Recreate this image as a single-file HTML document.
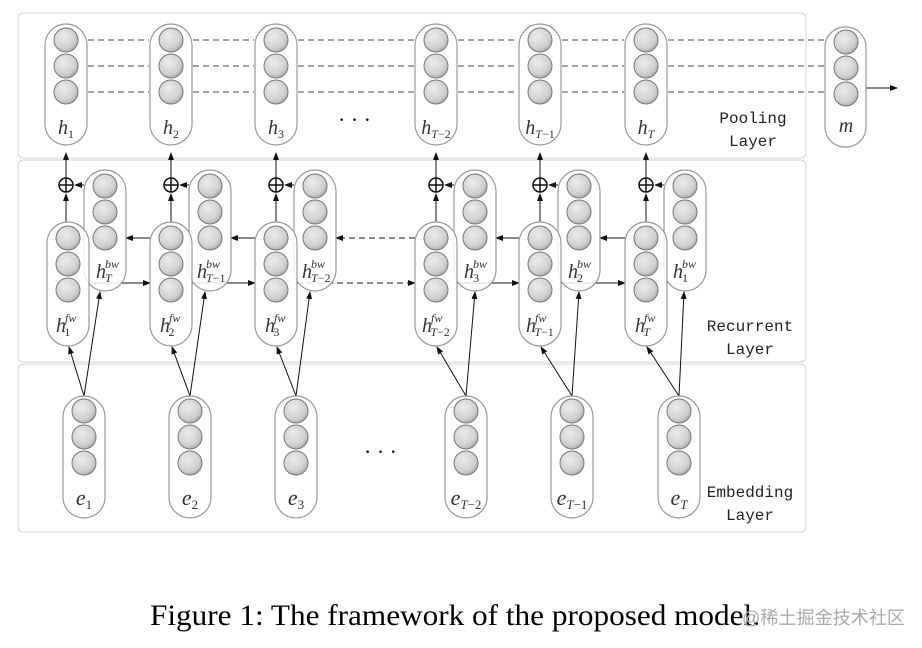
<!DOCTYPE html>
<html><head><meta charset="utf-8"><style>body{margin:0;background:#fff}svg{display:block}</style></head><body>
<svg width="922" height="648" viewBox="0 0 922 648" xmlns="http://www.w3.org/2000/svg">
<defs>
<radialGradient id="g" cx="0.4" cy="0.35" r="0.7"><stop offset="0" stop-color="#ececec"/><stop offset="0.7" stop-color="#d0d0d0"/><stop offset="1" stop-color="#a8a8a8"/></radialGradient>
<g id="c3"><circle cx="0" cy="0" r="12" fill="url(#g)" stroke="#777" stroke-width="1"/><circle cx="0" cy="26" r="12" fill="url(#g)" stroke="#777" stroke-width="1"/><circle cx="0" cy="52" r="12" fill="url(#g)" stroke="#777" stroke-width="1"/></g>
<marker id="a" markerWidth="8" markerHeight="6" refX="7" refY="3" orient="auto" markerUnits="userSpaceOnUse"><path d="M0,0L8,3L0,6z" fill="#111"/></marker>
</defs>
<g fill="#fff" stroke="#d4d4d4" stroke-width="1">
<rect x="18" y="13" width="788" height="145" rx="5"/>
<rect x="18" y="160" width="788" height="202" rx="5"/>
<rect x="18" y="364" width="788" height="168" rx="5"/>
</g>
<g font-family="Liberation Mono, monospace" font-size="16" fill="#222" text-anchor="middle">
<text x="753" y="123">Pooling</text><text x="753" y="146">Layer</text>
<text x="750" y="331">Recurrent</text><text x="750" y="354">Layer</text>
<text x="750" y="497">Embedding</text><text x="750" y="520">Layer</text>
</g>
<!-- top dashed -->
<g stroke="#444" stroke-width="1" stroke-dasharray="6,4" fill="none">
<path d="M88 40H149M88 66H149M88 92H149M193 40H254M193 66H254M193 92H254M298 40H414M298 66H414M298 92H414M458 40H518M458 66H518M458 92H518M562 40H624M562 66H624M562 92H624"/>
<line x1="668" y1="40" x2="834" y2="40" marker-end="url(#a)"/>
<line x1="668" y1="66" x2="834" y2="66" marker-end="url(#a)"/>
<line x1="668" y1="92" x2="834" y2="92" marker-end="url(#a)"/>
</g>
<line x1="866" y1="88" x2="897" y2="88" stroke="#111" marker-end="url(#a)"/>
<g fill="#fff" stroke="#999" stroke-width="1.2">
<rect x="45" y="24" width="42" height="121" rx="21"/><rect x="150" y="24" width="42" height="121" rx="21"/><rect x="255" y="24" width="42" height="121" rx="21"/><rect x="415" y="24" width="42" height="121" rx="21"/><rect x="519" y="24" width="42" height="121" rx="21"/><rect x="625" y="24" width="42" height="121" rx="21"/>
<rect x="825" y="27" width="41" height="120" rx="20"/>
</g>
<use href="#c3" x="66" y="40"/><use href="#c3" x="171" y="40"/><use href="#c3" x="276" y="40"/><use href="#c3" x="436" y="40"/><use href="#c3" x="540" y="40"/><use href="#c3" x="646" y="40"/><use href="#c3" x="846" y="42"/>
<g font-family="Liberation Serif, serif" font-style="italic" font-size="20" fill="#333" text-anchor="middle">
<text x="66" y="134">h<tspan font-size="12" font-style="normal" dy="4">1</tspan></text>
<text x="171" y="134">h<tspan font-size="12" font-style="normal" dy="4">2</tspan></text>
<text x="276" y="134">h<tspan font-size="12" font-style="normal" dy="4">3</tspan></text>
<text x="436" y="134">h<tspan font-size="12" dy="4">T</tspan><tspan font-size="12" font-style="normal">−2</tspan></text>
<text x="540" y="134">h<tspan font-size="12" dy="4">T</tspan><tspan font-size="12" font-style="normal">−1</tspan></text>
<text x="646" y="134">h<tspan font-size="12" dy="4">T</tspan></text>
<text x="846" y="132">m</text>
</g>
<g font-family="Liberation Serif, serif" font-size="22" fill="#111"><text x="338" y="127">·  ·  ·</text><text x="364" y="459">·  ·  ·</text></g>
<!-- recurrent connectors -->
<g stroke="#111" stroke-width="1" fill="none" marker-end="url(#a)">
<line x1="66" y1="222" x2="66" y2="194"/><line x1="66" y1="178" x2="66" y2="153"/>
<line x1="171" y1="222" x2="171" y2="194"/><line x1="171" y1="178" x2="171" y2="153"/>
<line x1="276" y1="222" x2="276" y2="194"/><line x1="276" y1="178" x2="276" y2="153"/>
<line x1="436" y1="222" x2="436" y2="194"/><line x1="436" y1="178" x2="436" y2="153"/>
<line x1="540" y1="222" x2="540" y2="194"/><line x1="540" y1="178" x2="540" y2="153"/>
<line x1="646" y1="222" x2="646" y2="194"/><line x1="646" y1="178" x2="646" y2="153"/>
<line x1="84" y1="185" x2="75" y2="185"/><line x1="189" y1="185" x2="180" y2="185"/><line x1="294" y1="185" x2="285" y2="185"/><line x1="454" y1="185" x2="445" y2="185"/><line x1="558" y1="185" x2="549" y2="185"/><line x1="664" y1="185" x2="655" y2="185"/>
<line x1="150" y1="238" x2="126" y2="238"/><line x1="255" y1="238" x2="231" y2="238"/><line x1="519" y1="238" x2="496" y2="238"/><line x1="625" y1="238" x2="600" y2="238"/>
<line x1="89" y1="283" x2="150" y2="283"/><line x1="192" y1="283" x2="255" y2="283"/><line x1="457" y1="283" x2="519" y2="283"/><line x1="561" y1="283" x2="625" y2="283"/>
<line x1="415" y1="238" x2="336" y2="238" stroke-dasharray="6,4"/><line x1="297" y1="283" x2="415" y2="283" stroke-dasharray="6,4"/>
</g>
<g fill="none" stroke="#111" stroke-width="1.5">
<circle cx="66" cy="185" r="7"/><circle cx="171" cy="185" r="7"/><circle cx="276" cy="185" r="7"/><circle cx="436" cy="185" r="7"/><circle cx="540" cy="185" r="7"/><circle cx="646" cy="185" r="7"/>
<path d="M59 185H73M66 178V192M164 185H178M171 178V192M269 185H283M276 178V192M429 185H443M436 178V192M533 185H547M540 178V192M639 185H653M646 178V192"/>
</g>
<!-- bw pills -->
<g fill="#fff" fill-opacity="0.85" stroke="#999" stroke-width="1.2">
<rect x="84" y="170" width="42" height="121" rx="21"/><rect x="189" y="170" width="42" height="121" rx="21"/><rect x="294" y="170" width="42" height="121" rx="21"/><rect x="454" y="170" width="42" height="121" rx="21"/><rect x="558" y="170" width="42" height="121" rx="21"/><rect x="664" y="170" width="42" height="121" rx="21"/>
</g>
<use href="#c3" x="105" y="186"/><use href="#c3" x="210" y="186"/><use href="#c3" x="315" y="186"/><use href="#c3" x="475" y="186"/><use href="#c3" x="579" y="186"/><use href="#c3" x="685" y="186"/>
<g font-family="Liberation Serif, serif" font-style="italic" font-size="20" fill="#333">
<text x="96" y="278">h<tspan font-size="12" dx="-1" dy="-10">bw</tspan><tspan font-size="12" dx="-14" dy="14">T</tspan></text>
<text x="197" y="278">h<tspan font-size="12" dx="-1" dy="-10">bw</tspan><tspan font-size="12" dx="-14" dy="14">T</tspan><tspan font-size="12" font-style="normal">−1</tspan></text>
<text x="302" y="278">h<tspan font-size="12" dx="-1" dy="-10">bw</tspan><tspan font-size="12" dx="-14" dy="14">T</tspan><tspan font-size="12" font-style="normal">−2</tspan></text>
<text x="464" y="278">h<tspan font-size="12" dx="-1" dy="-10">bw</tspan><tspan font-size="12" font-style="normal" dx="-14" dy="14">3</tspan></text>
<text x="568" y="278">h<tspan font-size="12" dx="-1" dy="-10">bw</tspan><tspan font-size="12" font-style="normal" dx="-14" dy="14">2</tspan></text>
<text x="673" y="278">h<tspan font-size="12" dx="-1" dy="-10">bw</tspan><tspan font-size="12" font-style="normal" dx="-14" dy="14">1</tspan></text>
</g>
<!-- fw pills -->
<g fill="#fff" fill-opacity="0.85" stroke="#999" stroke-width="1.2">
<rect x="47" y="222" width="42" height="124" rx="21"/><rect x="150" y="222" width="42" height="124" rx="21"/><rect x="255" y="222" width="42" height="124" rx="21"/><rect x="415" y="222" width="42" height="124" rx="21"/><rect x="519" y="222" width="42" height="124" rx="21"/><rect x="625" y="222" width="42" height="124" rx="21"/>
</g>
<use href="#c3" x="68" y="238"/><use href="#c3" x="171" y="238"/><use href="#c3" x="276" y="238"/><use href="#c3" x="436" y="238"/><use href="#c3" x="540" y="238"/><use href="#c3" x="646" y="238"/>
<g font-family="Liberation Serif, serif" font-style="italic" font-size="20" fill="#333">
<text x="56" y="332">h<tspan font-size="12" dx="-1" dy="-10">fw</tspan><tspan font-size="12" font-style="normal" dx="-12" dy="14">1</tspan></text>
<text x="160" y="332">h<tspan font-size="12" dx="-1" dy="-10">fw</tspan><tspan font-size="12" font-style="normal" dx="-12" dy="14">2</tspan></text>
<text x="265" y="332">h<tspan font-size="12" dx="-1" dy="-10">fw</tspan><tspan font-size="12" font-style="normal" dx="-12" dy="14">3</tspan></text>
<text x="422" y="332">h<tspan font-size="12" dx="-1" dy="-10">fw</tspan><tspan font-size="12" dx="-12" dy="14">T</tspan><tspan font-size="12" font-style="normal">−2</tspan></text>
<text x="526" y="332">h<tspan font-size="12" dx="-1" dy="-10">fw</tspan><tspan font-size="12" dx="-12" dy="14">T</tspan><tspan font-size="12" font-style="normal">−1</tspan></text>
<text x="635" y="332">h<tspan font-size="12" dx="-1" dy="-10">fw</tspan><tspan font-size="12" dx="-12" dy="14">T</tspan></text>
</g>
<!-- embedding arrows -->
<g stroke="#111" stroke-width="1" fill="none" marker-end="url(#a)">
<line x1="84" y1="396" x2="69" y2="347"/><line x1="84" y1="396" x2="100" y2="292"/>
<line x1="190" y1="396" x2="172" y2="347"/><line x1="190" y1="396" x2="205" y2="292"/>
<line x1="296" y1="396" x2="277" y2="347"/><line x1="296" y1="396" x2="310" y2="292"/>
<line x1="466" y1="396" x2="437" y2="347"/><line x1="466" y1="396" x2="475" y2="292"/>
<line x1="572" y1="396" x2="541" y2="347"/><line x1="572" y1="396" x2="579" y2="292"/>
<line x1="679" y1="396" x2="647" y2="347"/><line x1="679" y1="396" x2="684" y2="292"/>
</g>
<g fill="#fff" stroke="#999" stroke-width="1.2">
<rect x="63" y="396" width="42" height="122" rx="21"/><rect x="169" y="396" width="42" height="122" rx="21"/><rect x="275" y="396" width="42" height="122" rx="21"/><rect x="445" y="396" width="42" height="122" rx="21"/><rect x="551" y="396" width="42" height="122" rx="21"/><rect x="658" y="396" width="42" height="122" rx="21"/>
</g>
<use href="#c3" x="84" y="411"/><use href="#c3" x="190" y="411"/><use href="#c3" x="296" y="411"/><use href="#c3" x="466" y="411"/><use href="#c3" x="572" y="411"/><use href="#c3" x="679" y="411"/>
<g font-family="Liberation Serif, serif" font-style="italic" font-size="22" fill="#333" text-anchor="middle">
<text x="84" y="505">e<tspan font-size="13" font-style="normal" dy="4">1</tspan></text>
<text x="190" y="505">e<tspan font-size="13" font-style="normal" dy="4">2</tspan></text>
<text x="296" y="505">e<tspan font-size="13" font-style="normal" dy="4">3</tspan></text>
<text x="466" y="505">e<tspan font-size="13" dy="4">T</tspan><tspan font-size="13" font-style="normal">−2</tspan></text>
<text x="572" y="505">e<tspan font-size="13" dy="4">T</tspan><tspan font-size="13" font-style="normal">−1</tspan></text>
<text x="679" y="505">e<tspan font-size="13" dy="4">T</tspan></text>
</g>
<text x="150" y="625" font-family="Liberation Serif, serif" font-size="30" fill="#000" textLength="610" lengthAdjust="spacingAndGlyphs">Figure 1: The framework of the proposed model.</text>
<text x="742" y="624" font-family="Liberation Sans, Noto Sans CJK SC, sans-serif" font-size="18" fill="#aaa" textLength="163" lengthAdjust="spacingAndGlyphs">@稀土掘金技术社区</text>
</svg>
</body></html>
